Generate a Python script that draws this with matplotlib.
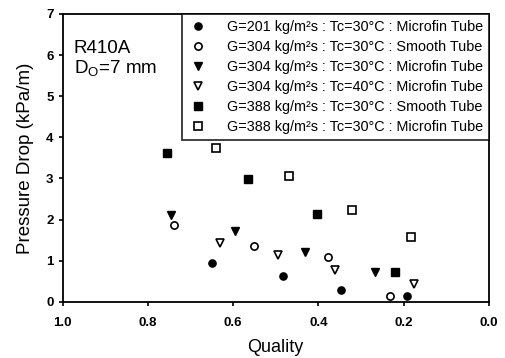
import matplotlib
matplotlib.use("Agg")
import matplotlib.pyplot as plt

plt.rcParams['font.family'] = ['Liberation Sans', 'DejaVu Sans']
plt.rcParams['mathtext.default'] = 'regular'

# quality / pressure drop (kPa/m) for each test condition
x_g201_micro = [0.650, 0.482, 0.348, 0.193]
y_g201_micro = [0.95, 0.62, 0.28, 0.14]
x_g304_smooth = [0.739, 0.550, 0.378, 0.232]
y_g304_smooth = [1.86, 1.35, 1.09, 0.15]
x_g304_micro30 = [0.746, 0.596, 0.432, 0.266]
y_g304_micro30 = [2.12, 1.71, 1.22, 0.73]
x_g304_micro40 = [0.631, 0.494, 0.361, 0.176]
y_g304_micro40 = [1.44, 1.14, 0.77, 0.44]
x_g388_smooth = [0.754, 0.565, 0.403, 0.221]
y_g388_smooth = [3.63, 2.98, 2.14, 0.73]
x_g388_micro = [0.639, 0.470, 0.320, 0.182]
y_g388_micro = [3.75, 3.07, 2.23, 1.57]

labels = [
    "G=201 kg/m²s : Tc=30°C : Microfin Tube",
    "G=304 kg/m²s : Tc=30°C : Smooth Tube",
    "G=304 kg/m²s : Tc=30°C : Microfin Tube",
    "G=304 kg/m²s : Tc=40°C : Microfin Tube",
    "G=388 kg/m²s : Tc=30°C : Smooth Tube",
    "G=388 kg/m²s : Tc=30°C : Microfin Tube",
]

fig = plt.figure(figsize=(5.05, 3.58), dpi=100)
ax = fig.add_axes([0.124, 0.157, 0.844, 0.804])

ms = 5.2
ax.plot(x_g201_micro, y_g201_micro, 'o', color='black', ms=ms, label=labels[0])
ax.plot(x_g304_smooth, y_g304_smooth, 'o', mfc='white', mec='black', mew=1.2, ms=ms, label=labels[1])
ax.plot(x_g304_micro30, y_g304_micro30, 'v', color='black', ms=ms + 0.5, label=labels[2])
ax.plot(x_g304_micro40, y_g304_micro40, 'v', mfc='white', mec='black', mew=1.2, ms=ms + 0.5, label=labels[3])
ax.plot(x_g388_smooth, y_g388_smooth, 's', color='black', ms=ms, label=labels[4])
ax.plot(x_g388_micro, y_g388_micro, 's', mfc='white', mec='black', mew=1.2, ms=ms, label=labels[5])

ax.set_xlim(1.0, 0.0)
ax.set_ylim(0, 7)
ax.set_xticks([1.0, 0.8, 0.6, 0.4, 0.2, 0.0])
ax.set_xticklabels(["1.0", "0.8", "0.6", "0.4", "0.2", "0.0"])
ax.set_yticks(range(0, 8))
ax.tick_params(direction='out', length=3, width=1.2, labelsize=9.5)
ax.tick_params(axis='x', pad=8)
for lab in ax.get_xticklabels() + ax.get_yticklabels():
    lab.set_fontweight('bold')
for sp in ax.spines.values():
    sp.set_linewidth(1.3)

ax.set_xlabel("Quality", fontsize=13, labelpad=7)
ax.set_ylabel("Pressure Drop (kPa/m)", fontsize=13.5, labelpad=9)

ax.text(0.974, 6.17, "R410A", fontsize=13.5, va='center')
ax.text(0.974, 5.68, "D$_O$=7 mm", fontsize=13.5, va='center')

leg = ax.legend(loc='upper right', fontsize=10.4, frameon=True, fancybox=False,
                edgecolor='black', borderaxespad=0, handletextpad=1.3,
                labelspacing=0.42, borderpad=0.4, handlelength=1.4)
leg.get_frame().set_linewidth(1.3)

fig.savefig("out.png", dpi=100)
